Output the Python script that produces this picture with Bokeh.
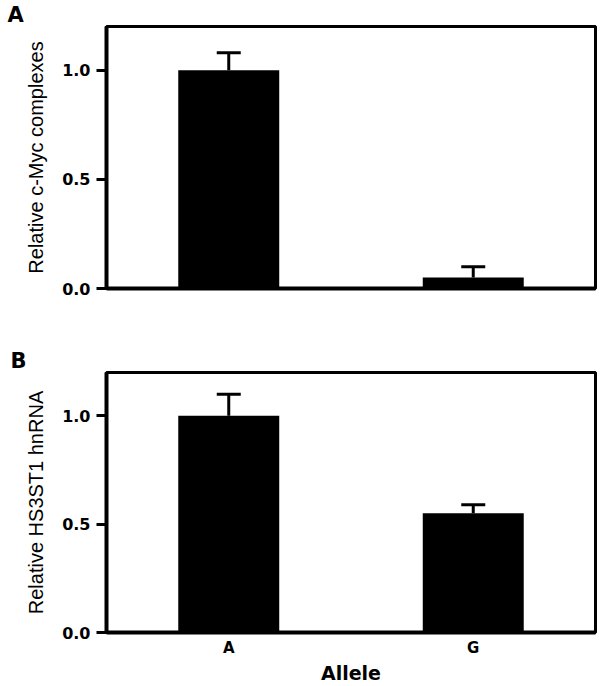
from bokeh.plotting import figure
from bokeh.models import ColumnDataSource, Whisker, TeeHead, Range1d, FixedTicker, CustomJSTickFormatter
from bokeh.layouts import column
from bokeh.embed import file_html
from bokeh.resources import INLINE

alleles = ["A", "G"]
myc_values = [1.0, 0.05]
myc_errors = [0.08, 0.05]
hnrna_values = [1.0, 0.55]
hnrna_errors = [0.10, 0.04]
y_ticks = [0.0, 0.5, 1.0]


def make_panel(values, errors, ylabel, letter, height, border_top, border_bottom, show_x,
               letter_offset):
    src = ColumnDataSource(dict(
        x=alleles,
        top=values,
        lower=values,
        upper=[v + e for v, e in zip(values, errors)],
    ))
    p = figure(x_range=alleles, y_range=Range1d(0, 1.2), width=604, height=height,
               output_backend="svg", toolbar_location=None,
               min_border_left=106, min_border_right=9,
               min_border_top=border_top, min_border_bottom=border_bottom)
    p.vbar(x="x", top="top", width=0.413, source=src, fill_color="black", line_color=None)
    w = Whisker(base="x", lower="lower", upper="upper", source=src, dimension="height",
                line_color="black", line_width=3,
                upper_head=TeeHead(size=24, line_width=3, line_color="black"),
                lower_head=None)
    p.add_layout(w)

    p.title.text = letter
    p.title.align = "left"
    p.title.offset = letter_offset
    p.title.standoff = 0
    p.title.text_font = "DejaVu Sans"
    p.title.text_font_style = "bold"
    p.title.text_font_size = "21px"
    p.title.text_color = "black"

    p.xgrid.visible = False
    p.ygrid.visible = False
    p.outline_line_color = "black"
    p.outline_line_width = 3
    p.outline_line_alpha = 1.0
    p.background_fill_color = "white"
    p.border_fill_color = "white"

    ya = p.yaxis[0]
    ya.ticker = FixedTicker(ticks=y_ticks)
    ya.formatter = CustomJSTickFormatter(code="return tick.toFixed(1);")
    ya.axis_line_width = 4
    ya.axis_line_color = "black"
    ya.major_tick_line_width = 3
    ya.major_tick_out = 10
    ya.major_tick_in = 0
    ya.minor_tick_line_color = None
    ya.major_label_text_font = "DejaVu Sans"
    ya.major_label_text_font_style = "bold"
    ya.major_label_text_font_size = "16px"
    ya.major_label_text_color = "black"
    ya.major_label_standoff = 6
    ya.axis_label = ylabel
    ya.axis_label_text_font = "Liberation Sans"
    ya.axis_label_text_font_style = "normal"
    ya.axis_label_text_font_size = "20px"
    ya.axis_label_text_color = "black"
    ya.axis_label_standoff = 12

    xa = p.xaxis[0]
    xa.axis_line_width = 4
    xa.axis_line_color = "black"
    xa.major_tick_line_color = None
    xa.minor_tick_line_color = None
    xa.major_tick_out = 0
    xa.major_tick_in = 0
    if show_x:
        xa.major_label_text_font = "DejaVu Sans"
        xa.major_label_text_font_style = "bold"
        xa.major_label_text_font_size = "15px"
        xa.major_label_text_color = "black"
        xa.major_label_standoff = 6
        xa.axis_label = "Allele"
        xa.axis_label_text_font = "DejaVu Sans"
        xa.axis_label_text_font_style = "bold"
        xa.axis_label_text_font_size = "19px"
        xa.axis_label_text_color = "black"
        xa.axis_label_standoff = 2
    else:
        xa.major_label_text_font_size = "0px"
        xa.major_label_text_color = None
    return p


pa = make_panel(myc_values, myc_errors, "Relative c-Myc complexes", "A", 340, 24, 52, False, -99)
pb = make_panel(hnrna_values, hnrna_errors, "Relative HS3ST1 hnRNA", "B", 346, 32, 51, True, -96)

layout = column(pa, pb, spacing=0)
open("out.html", "w").write(file_html(layout, INLINE))
